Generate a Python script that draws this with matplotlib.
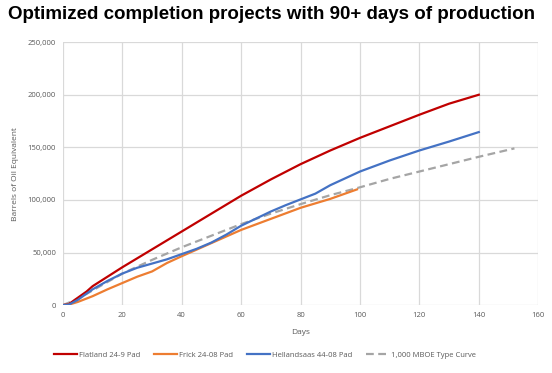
import matplotlib
matplotlib.use("Agg")
import matplotlib.pyplot as plt
from matplotlib.ticker import FuncFormatter

# lecturas aproximadas del grafico (dias, miles de BOE)
flatland_days = [0, 2, 5, 8, 10, 15, 20, 25, 30, 35, 40, 50, 60, 70, 80, 90, 100, 110, 120, 130, 140]
flatland_boe = [0, 1, 7, 13, 18, 27, 36, 44.5, 53, 61.5, 70, 87, 104, 119.5, 134, 147, 159, 170, 181, 191.5, 200]

frick_days = [0, 2, 5, 10, 15, 20, 25, 30, 35, 40, 50, 60, 70, 80, 90, 99]
frick_boe = [0, 0.5, 3, 8.5, 15, 21, 27, 32, 40, 46.5, 59, 71.5, 82, 92.5, 101, 110]

hellandsaas_days = [0, 2, 5, 8, 10, 15, 20, 25, 30, 35, 40, 45, 50, 55, 60, 70, 75, 80, 85, 90, 100, 110, 120, 130, 140]
hellandsaas_boe = [0, 0.5, 5, 11, 15, 23, 30, 35.5, 39.5, 43.5, 48.5, 53.5, 59.5, 67, 75.5, 89, 95, 100.5, 106, 114, 127, 137.5, 147, 155.5, 164.5]

type_days = [0, 5, 10, 20, 30, 40, 50, 60, 70, 80, 90, 100, 110, 120, 130, 140, 152]
type_boe = [0, 6, 14, 30, 43, 55, 66, 77, 87, 96, 104.5, 112, 120, 127, 134, 141, 149]

labels = ["Flatland 24-9 Pad", "Frick 24-08 Pad", "Hellandsaas 44-08 Pad", "1,000 MBOE Type Curve"]
colors = ["#C00000", "#ED7D31", "#4472C4", "#A5A5A5"]

plt.rcParams["font.family"] = ["Open Sans", "DejaVu Sans"]

fig = plt.figure(figsize=(5.52, 3.73), dpi=100)
ax = fig.add_axes([0.114, 0.182, 0.861, 0.705])

series = [
    (flatland_days, flatland_boe),
    (frick_days, frick_boe),
    (hellandsaas_days, hellandsaas_boe),
    (type_days, type_boe),
]
for i, (d, v) in enumerate(series):
    vals = [x * 1000 for x in v]
    if i == 3:
        ax.plot(d, vals, color=colors[i], lw=1.6, ls=(0, (3.5, 2)), label=labels[i], zorder=2)
    else:
        ax.plot(d, vals, color=colors[i], lw=1.6, label=labels[i], zorder=3)

ax.set_xlim(0, 160)
ax.set_ylim(0, 250000)
ax.set_xticks(range(0, 161, 20))
ax.set_yticks(range(0, 250001, 50000))
ax.yaxis.set_major_formatter(FuncFormatter(lambda v, p: f"{int(v):,}"))
ax.grid(True, color="#d9d9d9", lw=0.9)
ax.set_axisbelow(True)
for s in ax.spines.values():
    s.set_visible(False)
ax.tick_params(length=0, labelsize=5.5, colors="#595959", pad=5)
ax.set_xlabel("Days", fontsize=6, color="#595959", labelpad=7)
ax.set_ylabel("Barrels of Oil Equivalent", fontsize=6, color="#595959", labelpad=6)

fig.text(0.015, 0.962, "Optimized completion projects with 90+ days of production",
         fontsize=13.5, fontweight="bold", family="Liberation Sans", va="center", ha="left")

fig.legend(loc="center", bbox_to_anchor=(0.48, 0.048), ncol=4, frameon=False,
           fontsize=5.5, handlelength=3.0, columnspacing=1.8, handletextpad=0.3,
           labelcolor="#595959")

fig.savefig("out.png", dpi=100)
